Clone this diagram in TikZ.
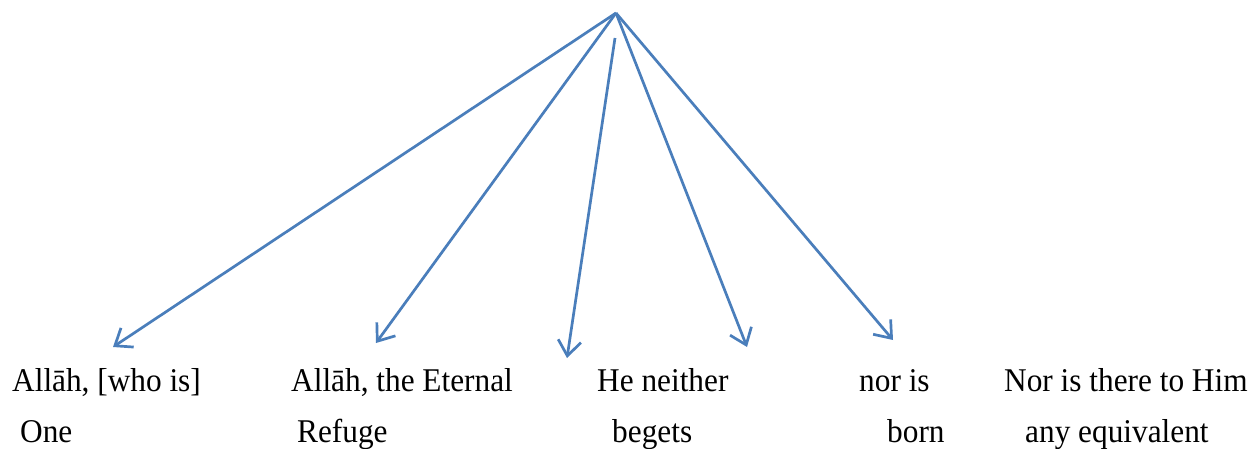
\documentclass[tikz,border=0pt]{standalone}
\usepackage{fontspec}
\usepackage{graphicx}
\setmainfont{Liberation Serif}
\usetikzlibrary{arrows.meta}
\definecolor{arrowblue}{HTML}{4A7EBB}
\newcommand{\tallt}[1]{\scalebox{1}[1.06]{#1}}
\begin{document}
\begin{tikzpicture}[x=1pt,y=-1pt,
  lbl/.style={anchor=base west,inner sep=0pt,font=\fontsize{31.3}{36}\selectfont},
  conn/.style={draw=arrowblue,line width=2.7pt,-{Straight Barb[length=15pt,width=23pt,line width=2.7pt]}}]
\useasboundingbox (0,0) rectangle (1254,449);
\coordinate (apex) at (616,13);
\coordinate (start3) at (615,38);
\coordinate (e1) at (113,347);
\coordinate (e2) at (376,343);
\coordinate (e3) at (567,358);
\coordinate (e4) at (747,347);
\coordinate (e5) at (893,340);
\draw[conn] (apex) -- (e1);
\draw[conn] (apex) -- (e2);
\draw[conn] (start3) -- (e3);
\draw[conn] (apex) -- (e4);
\draw[conn] (apex) -- (e5);
\node[lbl] (t1a) at (12,391) {\tallt{Allāh, [who is]}};
\node[lbl] (t1b) at (20,442) {\tallt{One}};
\node[lbl] (t2a) at (291,391) {\tallt{Allāh, the Eternal}};
\node[lbl] (t2b) at (297,442) {\tallt{Refuge}};
\node[lbl] (t3a) at (597,391) {\tallt{He neither}};
\node[lbl] (t3b) at (612,442) {\tallt{begets}};
\node[lbl] (t4a) at (859,391) {\tallt{nor is}};
\node[lbl] (t4b) at (887,442) {\tallt{born}};
\node[lbl] (t5a) at (1004,391) {\tallt{Nor is there to Him}};
\node[lbl] (t5b) at (1025,442) {\tallt{any equivalent}};
\end{tikzpicture}
\end{document}
